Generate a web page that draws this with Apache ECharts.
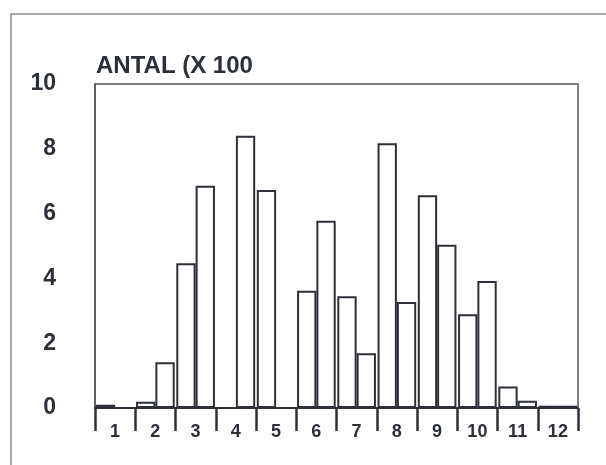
<!DOCTYPE html>
<html>
<head>
<meta charset="utf-8">
<script src="https://cdn.jsdelivr.net/npm/echarts@6/dist/echarts.min.js"></script>
<style>html,body{margin:0;padding:0;background:#fff}#c{width:606px;height:465px}</style>
</head>
<body>
<div id="c"></div>
<script>
const categories = ['1','2','3','4','5','6','7','8','9','10','11','12'];
const firstHalf  = [0.10, 0.19, 4.47, 0,    6.73, 3.62, 3.45, 8.17, 6.57, 2.89, 0.66, 0.07];
const secondHalf = [0,    1.41, 6.86, 8.40, 0,    5.78, 1.69, 3.27, 5.04, 3.92, 0.22, 0.07];
const yTicks = [0, 2, 4, 6, 8, 10];
const titleText = 'ANTAL (X 100';

const ink = '#2b2f38';
const chart = echarts.init(document.getElementById('c'), null, {renderer: 'canvas'});
const barStyle = {color: '#ffffff', borderColor: '#2d3038', borderWidth: 2};
chart.setOption({
  animation: false,
  backgroundColor: '#ffffff',
  title: {
    text: titleText, left: 96, top: 54, padding: 0,
    textStyle: {fontFamily: 'Liberation Sans', fontSize: 24, fontWeight: 'bold', color: ink}
  },
  graphic: [{
    type: 'polyline', silent: true,
    shape: {points: [[11, 465], [11, 14], [606, 14]]},
    style: {stroke: '#8a8a8a', lineWidth: 1.5, fill: null}
  }],
  grid: {left: 95, right: 28, top: 84, bottom: 57, show: true, borderColor: '#555', borderWidth: 1.5, backgroundColor: 'transparent'},
  xAxis: {
    type: 'category', data: categories, boundaryGap: true,
    axisLine: {lineStyle: {color: '#333', width: 2}},
    axisTick: {show: true, length: 23, lineStyle: {color: '#2d3038', width: 2.5}},
    axisLabel: {margin: 15, fontFamily: 'Liberation Sans', fontSize: 18, fontWeight: 'bold', color: ink}
  },
  yAxis: {
    type: 'value', min: yTicks[0], max: yTicks[yTicks.length - 1], interval: 2,
    splitLine: {show: false},
    axisLine: {show: true, lineStyle: {color: '#555', width: 1.5}},
    axisTick: {show: false},
    axisLabel: {margin: 39, fontFamily: 'Liberation Sans', fontSize: 23, fontWeight: 'bold', color: ink}
  },
  series: [
    {type: 'bar', data: firstHalf, barGap: '0%', barCategoryGap: '4%', itemStyle: barStyle},
    {type: 'bar', data: secondHalf, barGap: '0%', barCategoryGap: '4%', itemStyle: barStyle}
  ]
});
</script>
</body>
</html>
